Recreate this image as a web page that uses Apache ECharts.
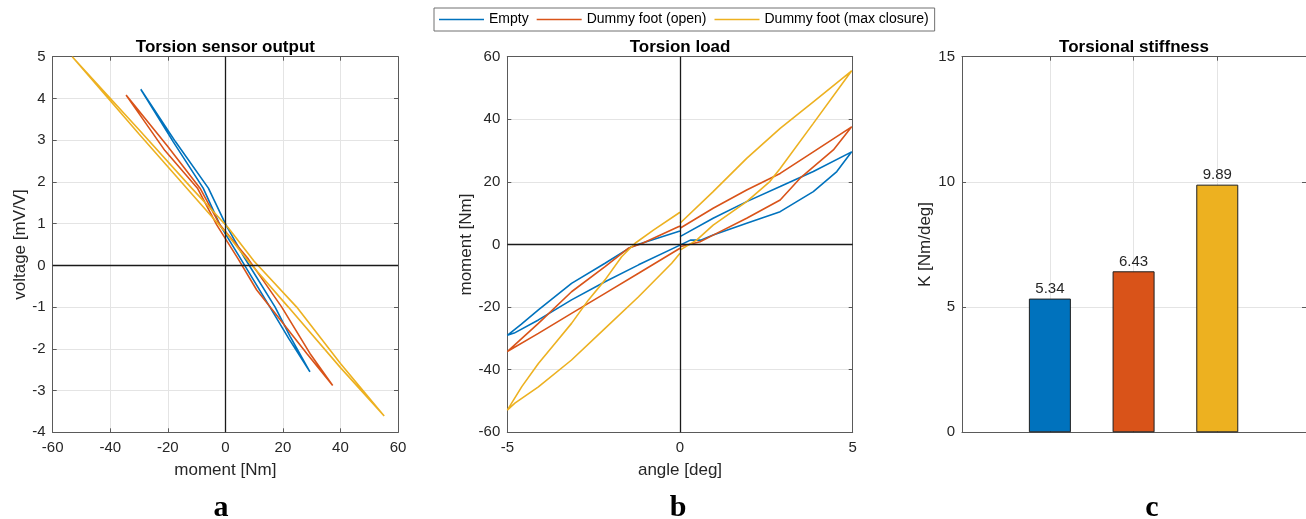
<!DOCTYPE html>
<html><head><meta charset="utf-8">
<script src="https://cdn.jsdelivr.net/npm/echarts@6/dist/echarts.min.js"></script>
<style>html,body{margin:0;padding:0;background:#fff}#c{width:1306px;height:519px}</style>
</head><body><div id="c"></div>
<script>
const seriesNames = ['Empty', 'Dummy foot (open)', 'Dummy foot (max closure)'];
const seriesColors = ['#0072BD', '#D95319', '#EDB120'];
const panelTitles = ['Torsion sensor output', 'Torsion load', 'Torsional stiffness'];
const panelLetters = ['a', 'b', 'c'];

// Panel a: [moment Nm, voltage mV/V]
const sensorEmpty = [[-29.4,4.22],[-18.1,2.96],[-7.7,1.85],[-1.9,0.97],[4.5,0.25],[15.5,-1.0],[22,-1.75],[29.4,-2.55],
  [22.5,-1.7],[17.3,-1.0],[6.5,0.2],[0.2,0.97],[-5.9,1.85],[-17.3,2.96],[-29.4,4.22]];
const sensorOpen = [[-34.5,4.08],[-21,2.75],[-9.7,1.85],[-3.0,0.97],[4.5,0.15],[10.9,-0.59],[17.3,-1.15],[28.3,-2.11],[37.3,-2.88],
  [29.4,-2.11],[19.6,-1.0],[8,0.15],[-1.9,0.97],[-8.8,1.85],[-20,2.85],[-34.5,4.08]];
const sensorClosed = [[-53.2,5.0],[-30,3.15],[-13.4,1.85],[0,0.8],[8,0.1],[21.9,-1.0],[40,-2.45],[55.2,-3.61],
  [40,-2.35],[24.8,-1.0],[10,0.1],[1,0.9],[-11.7,1.85],[-30,3.25],[-53.2,5.0]];

// Panel b: [angle deg, moment Nm], negative-side loop and positive-side loop
const loadEmptyNeg = [[0,4.3],[-1.2,0.1],[-1.4,-0.7],[-2.17,-6],[-3.14,-12.4],[-4.1,-20.9],[-4.6,-25.5],[-5,-29],
  [-4.8,-28.3],[-4.1,-24.1],[-3.14,-17.7],[-2.17,-11.9],[-1.2,-6.5],[0,-0.2]];
const loadEmptyPos = [[0,2.5],[0.96,8.4],[1.93,13.7],[2.9,18.5],[3.86,23.3],[4.97,29.6],
  [4.54,23.3],[3.86,16.9],[2.9,10.5],[1.93,6.8],[0.96,3],[0.6,1.4],[0.3,1.4],[0,-0.2]];
const loadOpenNeg = [[0,5.9],[-1.1,0.3],[-1.5,-1.2],[-2.17,-7.1],[-3.14,-15.1],[-4.1,-25.2],[-5,-34.2],
  [-4.1,-28.4],[-3.14,-22],[-2.17,-15.6],[-1.2,-9.2],[0,-1.2]];
const loadOpenPos = [[0,5.2],[0.96,11.6],[1.93,17.4],[2.9,22.7],[3.86,29.6],[4.97,37.6],
  [4.44,30.2],[3.47,21.1],[2.9,14.2],[1.93,8.4],[0.96,3],[0.58,0.9],[0,-0.7]];
const loadClosedNeg = [[0,10.3],[-0.77,4.6],[-1.3,0.4],[-1.69,-3.9],[-2.17,-11.3],[-2.65,-17.7],[-3.14,-25.2],[-3.62,-31.6],[-4.1,-38],[-4.58,-45.4],[-5,-52.9],
  [-4.78,-50.7],[-4.1,-45.5],[-3.14,-36.9],[-2.17,-26.8],[-1.2,-16.7],[-0.24,-6],[0,-2.8]];
const loadClosedPos = [[0,6.8],[0.96,16.9],[1.93,27.5],[2.9,37.1],[3.86,45.6],[4.97,55.5],
  [3.86,38.7],[2.9,24.3],[2.6,20.1],[1.93,13.7],[0.96,6.2],[0.48,1.4],[0,-1.8]];

// Panel c
const stiffnessPositions = [1, 2, 3];
const stiffnessValues = [5.34, 6.43, 9.89];

const FONT = 'Liberation Sans, Arial, sans-serif';
const TXT = '#262626';
const BOX = '#5a5a5a';
const GRIDC = '#e4e4e4';

const grids = [
  {left: 52.7, top: 56.7, width: 345.3, height: 375.6},
  {left: 507.3, top: 56.7, width: 345.4, height: 375.6},
  {left: 962, top: 56.7, width: 346, height: 375.6}
];

const xAxes = [], yAxes = [];
function addAxes(g, xc, yc) {
  const tick = {show: true, inside: true, length: 4, lineStyle: {color: BOX, width: 1}};
  const line = {show: true, onZero: false, lineStyle: {color: BOX, width: 1}};
  xAxes.push(Object.assign({
    type: 'value', gridIndex: g, position: 'bottom',
    axisLine: line, axisTick: Object.assign({}, tick, xc.ticks ? {customValues: xc.ticks} : {}),
    axisLabel: Object.assign({show: xc.labels !== false, color: TXT, fontSize: 15, fontFamily: FONT, margin: 8}, xc.ticks ? {customValues: xc.labelVals || []} : {}),
    splitLine: {show: true, lineStyle: {color: GRIDC, width: 1}},
    nameLocation: 'middle', nameGap: 30,
    nameTextStyle: {color: TXT, fontSize: 17, fontFamily: FONT}
  }, xc.base));
  xAxes.push(Object.assign({
    type: 'value', gridIndex: g, position: 'top',
    axisLine: line, axisTick: Object.assign({}, tick, xc.ticks ? {customValues: xc.ticks} : {}),
    axisLabel: {show: false}, splitLine: {show: false}
  }, xc.base, {name: ''}));
  yAxes.push(Object.assign({
    type: 'value', gridIndex: g, position: 'left',
    axisLine: line, axisTick: tick,
    axisLabel: {color: TXT, fontSize: 15, fontFamily: FONT, margin: 7},
    splitLine: {show: true, lineStyle: {color: GRIDC, width: 1}},
    nameLocation: 'middle', nameRotate: 90,
    nameTextStyle: {color: TXT, fontSize: 17, fontFamily: FONT}
  }, yc));
  yAxes.push(Object.assign({
    type: 'value', gridIndex: g, position: 'right',
    axisLine: line, axisTick: tick,
    axisLabel: {show: false}, splitLine: {show: false}
  }, yc, {name: ''}));
}
addAxes(0, {base: {min: -60, max: 60, interval: 20, name: 'moment [Nm]'}},
           {min: -4, max: 5, interval: 1, name: 'voltage [mV/V]', nameGap: 24});
addAxes(1, {base: {min: -5, max: 5, interval: 5, name: 'angle [deg]'}},
           {min: -60, max: 60, interval: 20, name: 'moment [Nm]', nameGap: 32});
addAxes(2, {base: {min: -0.05, max: 4.06}, ticks: stiffnessPositions, labelVals: []},
           {min: 0, max: 15, interval: 5, name: 'K [Nm/deg]', nameGap: 28});

const zeroMark = {
  silent: true, symbol: ['none', 'none'], label: {show: false},
  lineStyle: {color: '#1a1a1a', width: 1.3, type: 'solid'},
  emphasis: {disabled: true},
  data: [{xAxis: 0}, {yAxis: 0}]
};

function lineSeries(name, color, data, xi, yi, mark) {
  const s = {
    type: 'line', name: name, xAxisIndex: xi, yAxisIndex: yi, data: data,
    symbol: 'none', smooth: false, connectNulls: false,
    lineStyle: {color: color, width: 1.6}, itemStyle: {color: color},
    emphasis: {disabled: true}, z: 3
  };
  if (mark) s.markLine = zeroMark;
  return s;
}

const series = [];
const sensorData = [sensorEmpty, sensorOpen, sensorClosed];
sensorData.forEach((d, i) => series.push(lineSeries(seriesNames[i], seriesColors[i], d, 0, 0, i === 0)));
const loadData = [[loadEmptyNeg, loadEmptyPos], [loadOpenNeg, loadOpenPos], [loadClosedNeg, loadClosedPos]];
loadData.forEach((pair, i) => series.push(lineSeries(seriesNames[i], seriesColors[i], pair[0].concat([[null, null]], pair[1]), 2, 2, i === 0)));

series.push({
  type: 'bar', name: 'K', xAxisIndex: 4, yAxisIndex: 4, barWidth: 42,
  data: stiffnessPositions.map((p, i) => ({value: [p, stiffnessValues[i]], itemStyle: {color: seriesColors[i], borderColor: '#1f1f1f', borderWidth: 1}})),
  label: {show: true, position: 'top', distance: 2, color: TXT, fontSize: 15, fontFamily: FONT,
    formatter: p => p.value[1].toFixed(2)},
  emphasis: {disabled: true}
});

const titles = [];
const titleCenters = [225.4, 680, 1134];
panelTitles.forEach((t, i) => titles.push({
  text: t, left: titleCenters[i], top: 39, textAlign: 'center', padding: 0,
  textStyle: {fontSize: 17, fontWeight: 'bold', color: '#000', fontFamily: FONT}
}));
const letterCenters = [221, 678, 1152];
panelLetters.forEach((t, i) => titles.push({
  text: t, left: letterCenters[i], top: 493, textAlign: 'center', padding: 0,
  textStyle: {fontSize: 30, fontWeight: 'bold', color: '#000', fontFamily: 'Liberation Serif, Times New Roman, serif'}
}));

const chart = echarts.init(document.getElementById('c'), null, {renderer: 'canvas'});
chart.setOption({
  animation: false,
  backgroundColor: '#fff',
  title: titles,
  legend: {
    data: seriesNames.map(n => ({name: n, icon: 'rect'})),
    left: 434, top: 8, orient: 'horizontal',
    padding: [3, 6, 3, 5], itemGap: 8, itemWidth: 45, itemHeight: 1.6,
    borderColor: '#707070', borderWidth: 1,
    textStyle: {fontSize: 14, color: '#000', fontFamily: FONT, lineHeight: 17},
    selectedMode: false
  },
  grid: grids,
  xAxis: xAxes,
  yAxis: yAxes,
  series: series
});
</script></body></html>
